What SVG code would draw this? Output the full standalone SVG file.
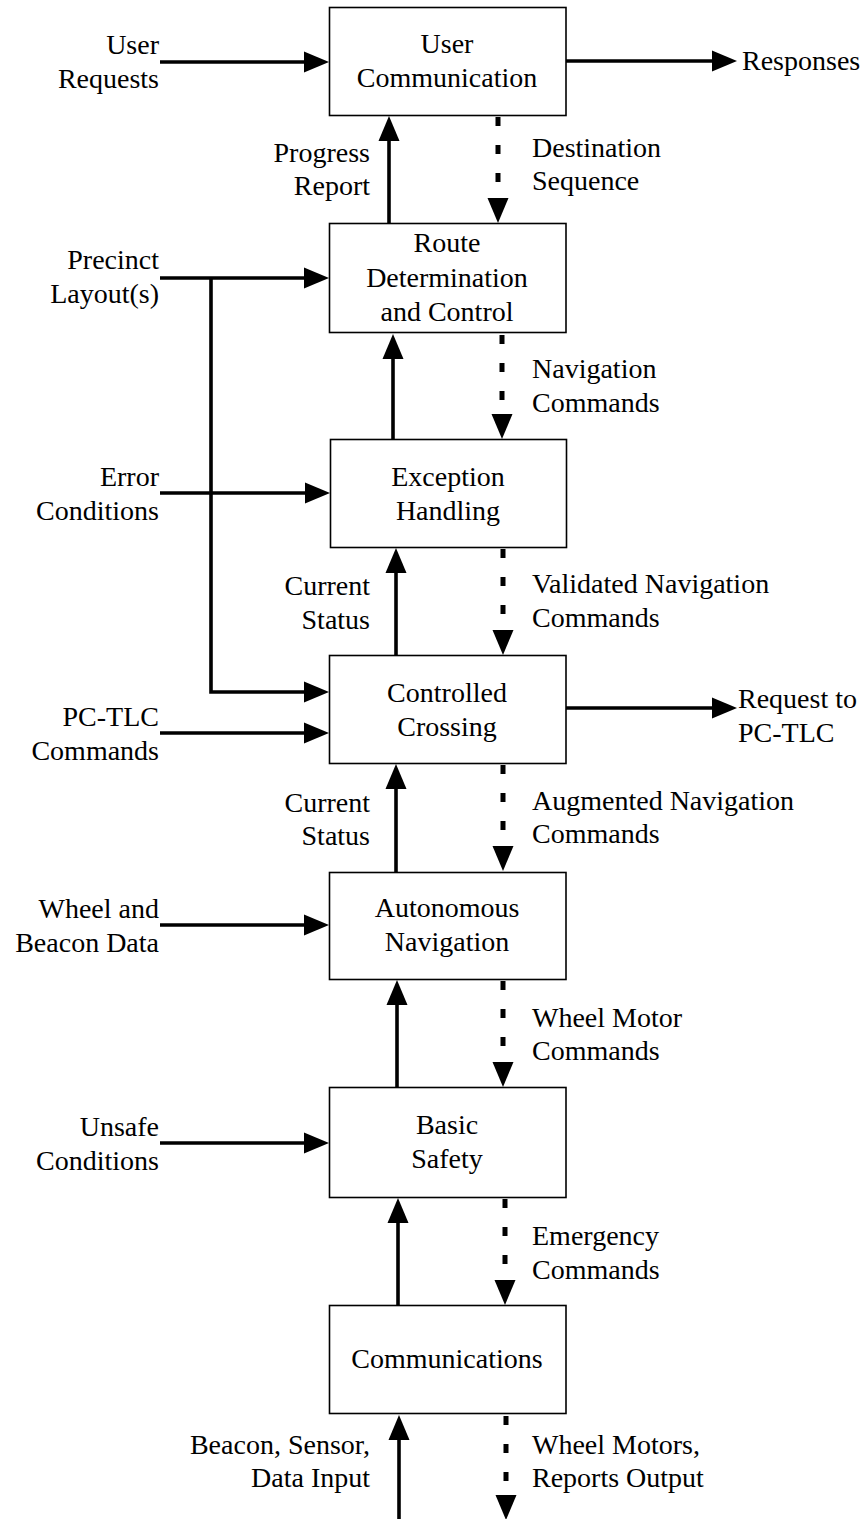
<svg xmlns="http://www.w3.org/2000/svg" width="863" height="1519" viewBox="0 0 863 1519" font-family="'Liberation Serif', 'Times New Roman', Tinos, 'DejaVu Serif', serif" font-size="28">
<defs>
<style>
.box{fill:#fff;stroke:#000;stroke-width:1.6}
text{font-family:'Liberation Serif','Times New Roman',Tinos,'DejaVu Serif',serif;font-size:28px;fill:#000}
.c{text-anchor:middle}
.r{text-anchor:end}
.solid{stroke:#000;stroke-width:3.6;fill:none}
.dash{stroke:#000;stroke-width:5;fill:none;stroke-dasharray:9 19}
</style>
<marker id="ah" markerUnits="userSpaceOnUse" markerWidth="26" markerHeight="22" refX="0" refY="10.5" orient="auto" overflow="visible">
<path d="M0,0 L25,10.5 L0,21 z" fill="#000"/>
</marker>
</defs>
<rect width="863" height="1519" fill="#fff"/>

<g id="connectors">
<line class="solid" x1="160" y1="62" x2="304" y2="62" marker-end="url(#ah)"/>
<line class="solid" x1="160" y1="278" x2="304" y2="278" marker-end="url(#ah)"/>
<polyline class="solid" points="211,278 211,692 304,692" marker-end="url(#ah)"/>
<line class="solid" x1="160" y1="493" x2="305" y2="493" marker-end="url(#ah)"/>
<line class="solid" x1="160" y1="733" x2="304" y2="733" marker-end="url(#ah)"/>
<line class="solid" x1="160" y1="925" x2="304" y2="925" marker-end="url(#ah)"/>
<line class="solid" x1="160" y1="1143" x2="304" y2="1143" marker-end="url(#ah)"/>
<line class="solid" x1="566" y1="61" x2="712" y2="61" marker-end="url(#ah)"/>
<line class="solid" x1="566" y1="708" x2="712" y2="708" marker-end="url(#ah)"/>
<line class="solid" x1="389" y1="223" x2="389" y2="141" marker-end="url(#ah)"/>
<line class="solid" x1="393" y1="439" x2="393" y2="359" marker-end="url(#ah)"/>
<line class="solid" x1="396" y1="655" x2="396" y2="573" marker-end="url(#ah)"/>
<line class="solid" x1="396" y1="872" x2="396" y2="789" marker-end="url(#ah)"/>
<line class="solid" x1="397" y1="1087" x2="397" y2="1005" marker-end="url(#ah)"/>
<line class="solid" x1="398" y1="1305" x2="398" y2="1223" marker-end="url(#ah)"/>
<line class="solid" x1="399" y1="1519" x2="399" y2="1440" marker-end="url(#ah)"/>
<line class="dash" x1="498" y1="117" x2="498" y2="198" marker-end="url(#ah)"/>
<line class="dash" x1="502" y1="335" x2="502" y2="414" marker-end="url(#ah)"/>
<line class="dash" x1="503" y1="549" x2="503" y2="630" marker-end="url(#ah)"/>
<line class="dash" x1="503" y1="765" x2="503" y2="846" marker-end="url(#ah)"/>
<line class="dash" x1="503" y1="981" x2="503" y2="1062" marker-end="url(#ah)"/>
<line class="dash" x1="505" y1="1199" x2="505" y2="1280" marker-end="url(#ah)"/>
<line class="dash" x1="506" y1="1416" x2="506" y2="1495" marker-end="url(#ah)"/>
</g>

<g id="labels">
<text class="r" x="159" y="54">User</text>
<text class="r" x="159" y="88">Requests</text>
<text x="742" y="70">Responses</text>
<text class="r" x="370" y="162">Progress</text>
<text class="r" x="370" y="195">Report</text>
<text x="532" y="157">Destination</text>
<text x="532" y="190">Sequence</text>
<text class="r" x="159" y="269">Precinct</text>
<text class="r" x="159" y="303">Layout(s)</text>
<text x="532" y="378">Navigation</text>
<text x="532" y="412">Commands</text>
<text class="r" x="159" y="486">Error</text>
<text class="r" x="159" y="520">Conditions</text>
<text class="r" x="370" y="595">Current</text>
<text class="r" x="370" y="629">Status</text>
<text x="532" y="593">Validated Navigation</text>
<text x="532" y="627">Commands</text>
<text class="r" x="159" y="726">PC-TLC</text>
<text class="r" x="159" y="760">Commands</text>
<text x="738" y="708">Request to</text>
<text x="738" y="742">PC-TLC</text>
<text class="r" x="370" y="812">Current</text>
<text class="r" x="370" y="845">Status</text>
<text x="532" y="810">Augmented Navigation</text>
<text x="532" y="843">Commands</text>
<text class="r" x="159" y="918">Wheel and</text>
<text class="r" x="159" y="952">Beacon Data</text>
<text x="532" y="1027">Wheel Motor</text>
<text x="532" y="1060">Commands</text>
<text class="r" x="159" y="1136">Unsafe</text>
<text class="r" x="159" y="1170">Conditions</text>
<text x="532" y="1245">Emergency</text>
<text x="532" y="1279">Commands</text>
<text class="r" x="370" y="1454">Beacon, Sensor,</text>
<text class="r" x="370" y="1487">Data Input</text>
<text x="532" y="1454">Wheel Motors,</text>
<text x="532" y="1487">Reports Output</text>
</g>

<g id="user-communication">
<rect class="box" x="329.5" y="7.5" width="236.5" height="108"/>
<text class="c" x="447" y="53">User</text>
<text class="c" x="447" y="87">Communication</text>
</g>
<g id="route-determination">
<rect class="box" x="329.5" y="223.5" width="236.5" height="109"/>
<text class="c" x="447" y="252">Route</text>
<text class="c" x="447" y="287">Determination</text>
<text class="c" x="447" y="321">and Control</text>
</g>
<g id="exception-handling">
<rect class="box" x="330.5" y="439.5" width="236" height="108"/>
<text class="c" x="448" y="486">Exception</text>
<text class="c" x="448" y="520">Handling</text>
</g>
<g id="controlled-crossing">
<rect class="box" x="329.5" y="655.5" width="236.5" height="108"/>
<text class="c" x="447" y="702">Controlled</text>
<text class="c" x="447" y="736">Crossing</text>
</g>
<g id="autonomous-navigation">
<rect class="box" x="329.5" y="872.5" width="236.5" height="107"/>
<text class="c" x="447" y="917">Autonomous</text>
<text class="c" x="447" y="951">Navigation</text>
</g>
<g id="basic-safety">
<rect class="box" x="329.5" y="1087.5" width="236.5" height="110"/>
<text class="c" x="447" y="1134">Basic</text>
<text class="c" x="447" y="1168">Safety</text>
</g>
<g id="communications">
<rect class="box" x="329.5" y="1305.5" width="236.5" height="108"/>
<text class="c" x="447" y="1368">Communications</text>
</g>
</svg>
